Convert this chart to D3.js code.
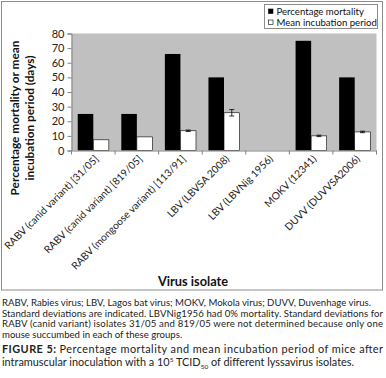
<!DOCTYPE html>
<html><head><meta charset="utf-8">
<script src="https://cdn.jsdelivr.net/npm/d3@7"></script>
<style>
body{margin:0;background:#fff;}
svg{display:block;font-family:Lato,"Open Sans",sans-serif;}
</style></head>
<body>
<svg id="c" width="386" height="378"></svg>
<script>
const categories = ["RABV (canid variant) [31/05]","RABV (canid variant) [819/05]","RABV (mongoose variant) [113/91]","LBV (LBVSA 2008)","LBV (LBVNig 1956)","MOKV (12341)","DUVV (DUVVSA2006)"];
const mortality = [25, 25, 66, 50, 0, 75, 50];
const incubation = [7.3, 9.3, 13.5, 25.8, 0, 10, 12.7];
const incubationSD = [0, 0, 0.5, 2.2, 0, 0.5, 0.5];
const yTicks = [0,10,20,30,40,50,60,70,80];
const seriesNames = ["Percentage mortality","Mean incubation period"];

const svg = d3.select("#c");
svg.append("rect").attr("x",1.5).attr("y",1.5).attr("width",381).attr("height",288.5)
  .attr("fill","#fff").attr("stroke","#8c8c8c").attr("stroke-width",1);

const L=71.5, R=376.5, T=33.5, B=150.5;
const x = d3.scaleBand().domain(categories).range([L,R]).paddingInner(0).paddingOuter(0);
const xs = d3.scaleBand().domain([0,1]).range([0,x.bandwidth()]).paddingInner(0).paddingOuter(0.4);
const y = d3.scaleLinear().domain([0,80]).range([B,T]);

svg.append("rect").attr("x",L).attr("y",T).attr("width",R-L).attr("height",B-T).attr("fill","#c0c0c0");

const g = svg.append("g");
categories.forEach((c,i)=>{
  if (mortality[i]>0) g.append("rect").attr("x",x(c)+xs(0)).attr("y",y(mortality[i]))
     .attr("width",xs.bandwidth()).attr("height",B-y(mortality[i])).attr("fill","#000");
  if (incubation[i]>0) {
    g.append("rect").attr("x",x(c)+xs(1)).attr("y",y(incubation[i]))
     .attr("width",xs.bandwidth()).attr("height",B-y(incubation[i])).attr("fill","#fff").attr("stroke","#000").attr("stroke-width",0.6);
    const cx = x(c)+xs(1)+xs.bandwidth()/2;
    const sd = incubationSD[i];
    if (sd>0){
      const e = g.append("g").attr("stroke","#000").attr("stroke-width",0.8);
      e.append("line").attr("x1",cx).attr("x2",cx).attr("y1",y(incubation[i]+sd)).attr("y2",y(incubation[i]-sd));
      [incubation[i]+sd, incubation[i]-sd].forEach(v=>e.append("line").attr("x1",cx-2.5).attr("x2",cx+2.5).attr("y1",y(v)).attr("y2",y(v)));
    }
  }
});

const ya = svg.append("g").attr("transform",`translate(${L},0)`)
  .call(d3.axisLeft(y).tickValues(yTicks).tickSize(4).tickPadding(3));
ya.select(".domain").attr("stroke","#808080");
ya.selectAll(".tick line").attr("stroke","#808080");
ya.selectAll("text").attr("font-size",11).attr("fill","#222").attr("font-family","Lato,sans-serif");

const xa = svg.append("g").attr("transform",`translate(0,${B})`)
  .call(d3.axisBottom(x).tickSize(0).tickFormat(""));
xa.select(".domain").attr("stroke","#808080");
const bounds = [L].concat(categories.map(c=>x(c)+x.bandwidth()));
bounds.forEach(b=>svg.append("line").attr("x1",b).attr("x2",b).attr("y1",B).attr("y2",B+4).attr("stroke","#808080"));
categories.forEach(c=>{
  const cx = x(c)+x.bandwidth()/2+6;
  svg.append("text").attr("transform",`translate(${cx},${B+9}) rotate(-45)`)
    .attr("text-anchor","end").attr("font-size",10.2).attr("fill","#222").text(c);
});

svg.append("text").attr("transform","translate(19,118) rotate(-90)").attr("text-anchor","middle")
  .attr("font-size",11.8).attr("font-weight","bold").attr("fill","#111").text("Percentage mortality or mean");
svg.append("text").attr("transform","translate(34,118) rotate(-90)").attr("text-anchor","middle")
  .attr("font-size",11.8).attr("font-weight","bold").attr("fill","#111").text("incubation period (days)");
svg.append("text").attr("x",193).attr("y",286).attr("text-anchor","middle")
  .attr("font-size",12.8).attr("font-weight","bold").attr("fill","#111").text("Virus isolate");

const lg = svg.append("g");
lg.append("rect").attr("x",264.5).attr("y",4.5).attr("width",113).attr("height",24).attr("fill","#fff").attr("stroke","#8c8c8c");
seriesNames.forEach((s,i)=>{
  const yy = 12+i*11;
  lg.append("rect").attr("x",268.5).attr("y",yy-3).attr("width",4.5).attr("height",4.5)
    .attr("fill", i===0?"#000":"#fff").attr("stroke","#000").attr("stroke-width",0.6);
  lg.append("text").attr("x",276.5).attr("y",yy+3).attr("font-size",9.6).attr("fill","#111").text(s);
});

const cap = svg.append("g").attr("font-size",9.6).attr("fill","#222");
const capLines = [
  ["RABV, Rabies virus; LBV, Lagos bat virus; MOKV, Mokola virus; DUVV, Duvenhage virus.", false],
  ["Standard deviations are indicated. LBVNig1956 had 0% mortality. Standard deviations for", true],
  ["RABV (canid variant) isolates 31/05 and 819/05 were not determined because only one", true],
  ["mouse succumbed in each of these groups.", false]
];
capLines.forEach((l,i)=>{
  const t = cap.append("text").attr("x",2).attr("y",306+i*10.5).text(l[0]);
  if (l[1]) t.attr("textLength",381).attr("lengthAdjust","spacing");
});
const f1 = svg.append("text").attr("x",2).attr("y",353).attr("font-size",10.9).attr("fill","#222")
  .attr("textLength",381).attr("lengthAdjust","spacing");
f1.append("tspan").attr("font-weight","bold").text("FIGURE 5:");
f1.append("tspan").text(" Percentage mortality and mean incubation period of mice after");
const f2 = svg.append("text").attr("x",2).attr("y",366).attr("font-size",10.9).attr("fill","#222");
f2.append("tspan").text("intramuscular inoculation with a 10");
f2.append("tspan").attr("font-size",6.5).attr("dy",-4).text("5");
f2.append("tspan").attr("dy",4).text(" TCID");
f2.append("tspan").attr("font-size",6.5).attr("dy",2.5).text("50");
f2.append("tspan").attr("dy",-2.5).text(" of different lyssavirus isolates.");
</script>
</body></html>
